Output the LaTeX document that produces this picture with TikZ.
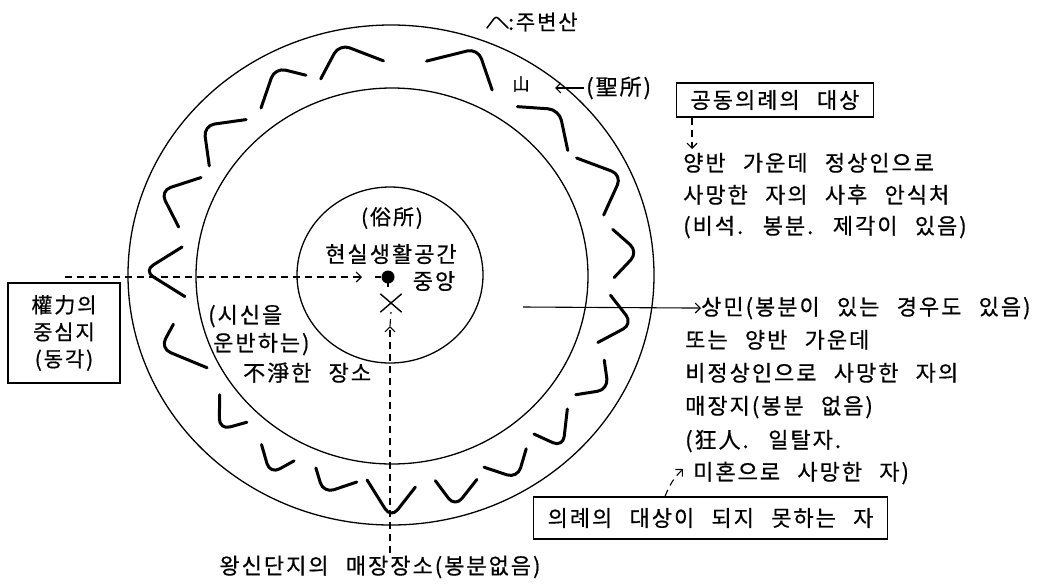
\documentclass[tikz,border=0pt]{standalone}
\usepackage{fontspec}
\setmainfont{Noto Sans CJK KR}[LetterSpace=9,WordSpace=2.5,FakeBold=0.6]
\usetikzlibrary{arrows.meta,shapes.misc}
\tikzset{
  txt/.style={inner sep=0pt, font=\fontsize{22}{30}\selectfont},
  boxed/.style={draw, line width=1.2pt, inner xsep=14pt, inner ysep=7pt, font=\fontsize{22}{28}\selectfont},
  mtn/.style={line width=3pt, line cap=round, line join=round, rounded corners=11pt},
  ring/.style={line width=1.3pt},
  dashline/.style={dash pattern=on 7pt off 5pt, line width=1.1pt},
  arr/.style={-{Straight Barb[length=5pt,width=10pt]}},
}
\newcommand\mountainmark[6]{%
  \begin{scope}[shift={({391+263*#2*cos(#1)},{275-250*#2*sin(#1)})},rotate={#1-90}]
    \draw[mtn] ({-1.1*#3*sin(#4)},{1.1*#3*cos(#4)}) -- (0,0) -- ({1.1*#5*sin(#6)},{1.1*#5*cos(#6)});
  \end{scope}}
\begin{document}
\begin{tikzpicture}[x=1pt,y=-1pt]
\fill[white] (0,0) rectangle (1047,587);
\path[use as bounding box] (0,0) rectangle (1047,587);

% rings
\draw[ring] (391,275) ellipse [x radius=263pt, y radius=250pt];
\draw[ring] (392,276) ellipse [x radius=196pt, y radius=188pt];
\draw[ring] (390,275) ellipse [x radius=93pt, y radius=88pt];

% surrounding mountains
\mountainmark{118}{0.94}{39}{47}{29}{48}
\mountainmark{102}{0.945}{36}{40}{43}{57}
\mountainmark{70}{0.965}{48}{56}{40}{39}
\mountainmark{46}{0.92}{38}{50}{38}{56}
\mountainmark{24.5}{0.965}{44}{45}{40}{41}
\mountainmark{5.6}{0.945}{31}{47}{32}{41}
\mountainmark{348}{0.94}{33}{40}{36}{40}
\mountainmark{331}{0.945}{27}{53}{30}{38}
\mountainmark{313.5}{0.95}{35}{50}{29}{22}
\mountainmark{300.6}{0.945}{28}{47}{32}{41}
\mountainmark{284.7}{0.96}{32}{53}{30}{22}
\mountainmark{270}{0.973}{36}{38}{41}{32}
\mountainmark{253.6}{0.91}{32}{55}{24}{33}
\mountainmark{240}{0.92}{25}{31}{28}{46}
\mountainmark{223.5}{0.90}{26}{28}{32}{46}
\mountainmark{198.5}{0.925}{46}{41}{25}{43}
\mountainmark{179}{0.94}{44}{31}{41}{33}
\mountainmark{159}{0.94}{37}{42}{39}{39}
\mountainmark{140}{0.93}{37}{42}{39}{48}

% legend
\draw[line width=1.5pt, line cap=round, rounded corners=3pt] (487,28) -- (496,16) -- (508,28);
\node[txt, anchor=west, font=\fontsize{21}{24}\selectfont] (legend) at (508,22) {:주변산};

% sacred place
\node[txt, font=\fontsize{17}{20}\selectfont] (san) at (521,84) {山};
\node[txt, anchor=west] (sg) at (586,88) {(聖所)};
\coordinate (sgtip) at (555,88);
\draw[line width=1.1pt, arr, shorten <=2pt] (sg.west) -- (sgtip);

% common ritual box
\node[boxed] (b1) at (775,100) {공동의례의 대상};
\coordinate (b1tip) at (692,149);
\draw[dashline, arr] (b1.south west -| b1tip) -- (b1tip);
\node[txt, anchor=base west] (t1) at (683,171) {양반 가운데 정상인으로};
\node[txt, anchor=base west] (t2) at (683,203) {사망한 자의 사후 안식처};
\node[txt, anchor=base west] (t3) at (683,234) {(비석. 봉분. 제각이 있음)};

% lower right
\node[txt, anchor=base west] (l4) at (701,315) {상민(봉분이 있는 경우도 있음)};
\node[txt, anchor=base west] (l5) at (685,348) {또는 양반 가운데};
\node[txt, anchor=base west] (l6) at (685,381) {비정상인으로 사망한 자의};
\node[txt, anchor=base west] (l7) at (685,414) {매장지(봉분 없음)};
\node[txt, anchor=base west] (l8) at (685,448) {(狂人. 일탈자.};
\node[txt, anchor=base west] (l9) at (693,480) {미혼으로 사망한 자)};
\coordinate (sa) at (523,307);
\draw[line width=1.1pt, arr] (sa) -- (l4.west);

\node[boxed, anchor=west, minimum height=42pt] (b2) at (533,518) {의례의 대상이 되지 못하는 자};
\coordinate (b2tip) at (683,469);
\draw[dashline, arr] ([xshift=132pt]b2.north west) to[bend left=12] (b2tip);

% left box
\node[boxed, align=center, font=\fontsize{21}{27}\selectfont, minimum width=112pt, minimum height=100pt, inner xsep=6pt] (b3) at (64,333) {權力의\\중심지\\(동각)};

% centre
\node[txt, font=\fontsize{21}{24}\selectfont] (sokso) at (392,218) {(俗所)};
\node[txt] (hs) at (391,254) {현실생활공간};
\node[txt] (jungang) at (434,281) {중앙};
\node[circle, fill, inner sep=0pt, minimum size=13pt] (dot) at (388,277) {};
\draw[line width=1.6pt] (dot.center) -- ++(0,10);
\node[cross out, draw, line width=1.4pt, minimum width=20pt, minimum height=17pt, inner sep=0pt] (xm) at (391,303) {};

\coordinate (hst) at (65,277);
\coordinate (htip) at (362,277);
\coordinate (hd) at (375,277);
\draw[dashline, arr] (hst) -- (htip);
\draw[line width=1.1pt] (hd) -- (dot);

% left texts
\node[txt, anchor=base west] (s1) at (208,323) {(시신을};
\node[txt, anchor=base west] (s2) at (213,351) {운반하는)};
\node[txt, anchor=base west] (s3) at (243,381) {不淨한 장소};

% bottom
\node[txt] (bt) at (380,567) {왕신단지의 매장장소(봉분없음)};
\coordinate (vst) at (390,553);
\coordinate (vtip) at (390,326);
\draw[dashline, arr] (vst) -- (vtip);
\draw[dashline] (vtip) -- (xm.south);
\end{tikzpicture}
\end{document}
